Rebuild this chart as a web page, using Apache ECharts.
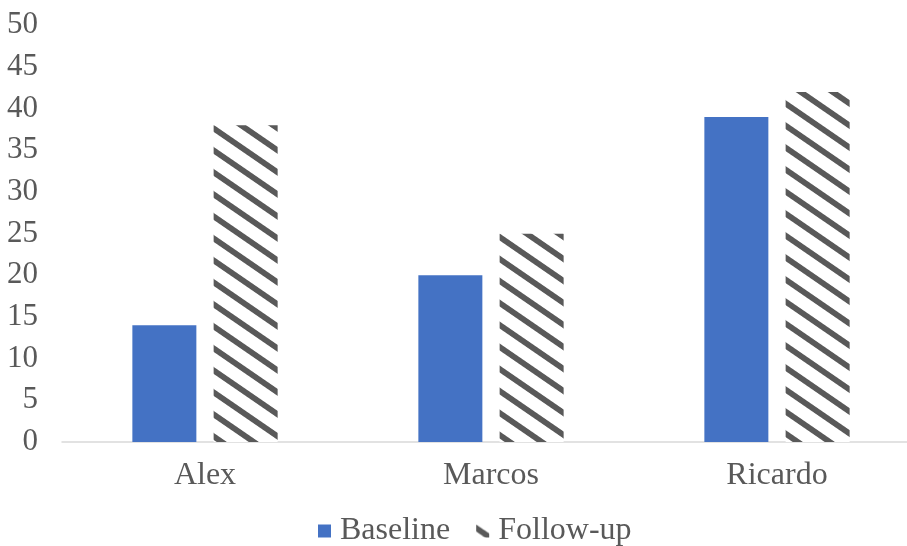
<!DOCTYPE html>
<html>
<head>
<meta charset="utf-8">
<script src="https://cdn.jsdelivr.net/npm/echarts@6/dist/echarts.min.js"></script>
<style>
  html, body { margin: 0; padding: 0; background: #fff; }
  #chart { width: 907px; height: 546px; }
</style>
</head>
<body>
<div id="chart"></div>
<script>
const categories = ['Alex', 'Marcos', 'Ricardo'];
const baseline = [14, 20, 39];
const followUp = [38, 25, 42];
const yTicks = [0, 5, 10, 15, 20, 25, 30, 35, 40, 45, 50];

const TEXT = '#595959';
const FONT = 'Liberation Serif';

// Diagonal hatch tile (downward stripes) rendered pixel by pixel
function makeHatch() {
  const W = 32, H = 22, t = 7, ss = 4;
  const c = document.createElement('canvas');
  c.width = W; c.height = H;
  const ctx = c.getContext('2d');
  const img = ctx.createImageData(W, H);
  for (let y = 0; y < H; y++) {
    for (let x = 0; x < W; x++) {
      let hit = 0;
      for (let sy = 0; sy < ss; sy++) {
        for (let sx = 0; sx < ss; sx++) {
          const px = x + (sx + 0.5) / ss, py = y + (sy + 0.5) / ss;
          let v = (py - px * H / W) % H;
          if (v < 0) v += H;
          if (v < t) hit++;
        }
      }
      const a = hit / (ss * ss);
      const val = Math.round(255 - (255 - 89) * a);
      const i = (y * W + x) * 4;
      img.data[i] = val; img.data[i + 1] = val; img.data[i + 2] = val; img.data[i + 3] = 255;
    }
  }
  ctx.putImageData(img, 0, 0);
  return c;
}

const hatch = { image: makeHatch(), repeat: 'repeat' };

const chart = echarts.init(document.getElementById('chart'), null, { renderer: 'canvas' });
chart.setOption({
  animation: false,
  backgroundColor: '#ffffff',
  textStyle: { fontFamily: FONT, color: TEXT },
  grid: {
    left: 62, top: 25.3, width: 858, bottom: 104,
    containLabel: false, outerBoundsMode: 'none'
  },
  legend: {
    left: 318,
    top: 515,
    padding: 0,
    icon: 'rect',
    itemWidth: 13,
    itemHeight: 13,
    itemGap: 26,
    textStyle: { fontFamily: FONT, fontSize: 32, color: TEXT, padding: [0, 0, 0, 4] },
    data: ['Baseline', 'Follow-up']
  },
  xAxis: {
    type: 'category',
    data: categories,
    axisLine: { show: true, lineStyle: { color: '#d9d9d9', width: 1.5 } },
    axisTick: { show: false },
    axisLabel: { fontFamily: FONT, fontSize: 32, color: TEXT, margin: 18 },
    splitLine: { show: false }
  },
  yAxis: {
    type: 'value',
    min: yTicks[0],
    max: yTicks[yTicks.length - 1],
    interval: yTicks[1] - yTicks[0],
    axisLine: { show: false },
    axisTick: { show: false },
    splitLine: { show: false },
    axisLabel: { fontFamily: FONT, fontSize: 31, color: TEXT, margin: 24 }
  },
  series: [
    {
      name: 'Baseline',
      type: 'bar',
      data: baseline,
      barWidth: 64,
      barGap: '27%',
      itemStyle: { color: '#4472C4' }
    },
    {
      name: 'Follow-up',
      type: 'bar',
      data: followUp,
      barWidth: 64,
      barGap: '27%',
      itemStyle: { color: hatch }
    }
  ]
});
</script>
</body>
</html>
